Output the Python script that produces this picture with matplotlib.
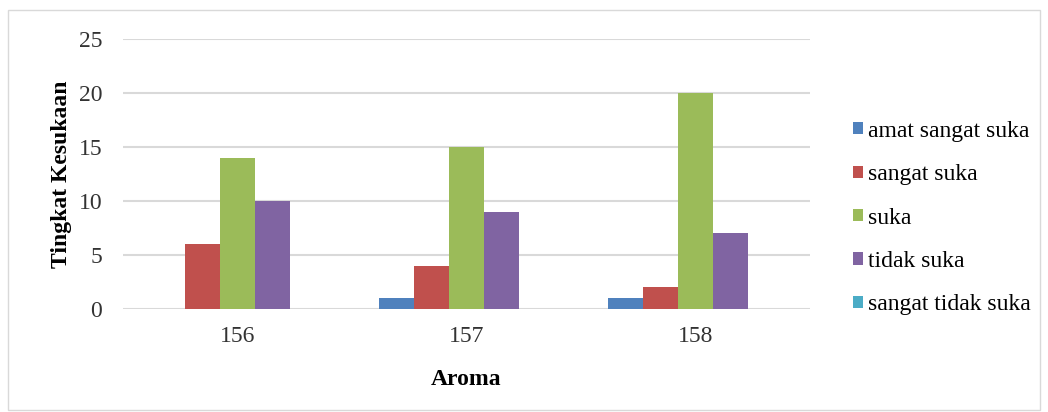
import numpy as np
import matplotlib.pyplot as plt
from matplotlib.patches import Rectangle

# Aroma preference counts per sample code
samples = ["156", "157", "158"]
series_names = ["amat sangat suka", "sangat suka", "suka", "tidak suka", "sangat tidak suka"]
amat_sangat_suka = [0, 1, 1]
sangat_suka = [6, 4, 2]
suka = [14, 15, 20]
tidak_suka = [10, 9, 7]
sangat_tidak_suka = [0, 0, 0]

colors = ["#4F81BD", "#C0504D", "#9BBB59", "#8064A2", "#4BACC6"]

plt.rcParams["font.family"] = ["Liberation Serif", "DejaVu Serif"]

fig = plt.figure(figsize=(10.48, 4.12), dpi=100)
ax = fig.add_axes([0.1174, 0.25, 0.6556, 0.655])

# Light frame around the whole chart area
fig.patches.append(Rectangle((0.008, 0.005), 0.984, 0.97, transform=fig.transFigure,
                             fill=False, edgecolor="#D9D9D9", linewidth=1.0))

x = np.arange(len(samples))
width = 0.153
all_series = [amat_sangat_suka, sangat_suka, suka, tidak_suka, sangat_tidak_suka]
for i, (name, vals) in enumerate(zip(series_names, all_series)):
    ax.bar(x + (i - 2) * width, vals, width, color=colors[i], label=name, zorder=3)

ax.set_xlim(-0.5, 2.5)
ax.set_ylim(0, 25)
ax.set_yticks([0, 5, 10, 15, 20, 25])
ax.set_xticks(x)
ax.set_xticklabels(samples)
ax.grid(axis="y", color="#D9D9D9", linewidth=1.5, zorder=0)
for side in ["top", "right", "left", "bottom"]:
    ax.spines[side].set_visible(False)
ax.tick_params(axis="both", length=0, labelsize=17, colors="#333333")
ax.tick_params(axis="y", pad=15)
ax.tick_params(axis="x", pad=12)

ax.set_xlabel("Aroma", fontsize=17, fontweight="bold", labelpad=16)
ax.set_ylabel("Tingkat Kesukaan", fontsize=17, fontweight="bold", labelpad=5)

ax.legend(loc="center left", bbox_to_anchor=(1.0626, 0.337), frameon=False,
          fontsize=17, handlelength=0.42, handleheight=0.42, handletextpad=0.2,
          labelspacing=0.95, borderaxespad=0, borderpad=0)

fig.savefig("out.png", dpi=100)
